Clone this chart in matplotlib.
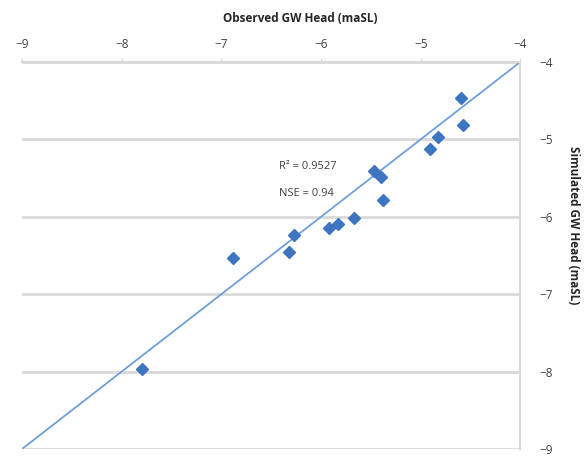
import numpy as np
import matplotlib.pyplot as plt

# observed vs simulated groundwater heads (maSL)
observed = [-4.60, -4.58, -4.83, -4.91, -5.47, -5.40, -5.38, -5.67, -5.83,
            -5.92, -6.27, -6.32, -6.88, -7.80]
simulated = [-4.47, -4.81, -4.97, -5.13, -5.41, -5.49, -5.78, -6.01, -6.09,
             -6.14, -6.23, -6.46, -6.53, -7.97]
one_to_one = [-9, -4]
ticks = [-9, -8, -7, -6, -5, -4]

plt.rcParams["font.family"] = ["Open Sans", "DejaVu Sans"]

fig = plt.figure(figsize=(5.87, 4.57), dpi=100)
ax = fig.add_axes([0.0375, 0.0175, 0.849, 0.847])

ax.plot(one_to_one, one_to_one, color="#6f9fd8", linewidth=1.3, zorder=2)
ax.plot(observed, simulated, linestyle="none", marker="D", markersize=6,
        color="#3f74c0", zorder=3)

ax.set_xlim(-9, -4)
ax.set_ylim(-9, -4)
ax.set_xticks(ticks)
ax.set_yticks(ticks)

ax.xaxis.tick_top()
ax.yaxis.tick_right()
ax.tick_params(axis="x", length=3, color="#d9d9d9", labelsize=8.5, pad=5,
               labelcolor="#404040")
ax.tick_params(axis="y", length=0, labelsize=8.5, pad=14, labelcolor="#404040")

ax.grid(axis="y", color="#d9d9d9", linewidth=2)
ax.set_axisbelow(True)
for side in ["left", "bottom"]:
    ax.spines[side].set_visible(False)
for side in ["top", "right"]:
    ax.spines[side].set_color("#d9d9d9")
    ax.spines[side].set_linewidth(1.5)

ax.text(-6.13, -5.35, "R² = 0.9527", fontsize=8, color="#404040", ha="center", va="center")
ax.text(-6.15, -5.70, "NSE = 0.94", fontsize=8, color="#404040", ha="center", va="center")

fig.text(300 / 587, 1 - 19 / 457, "Observed GW Head (maSL)", fontsize=8.5,
         fontweight="bold", ha="center", va="center", color="#262626")
fig.text(573 / 587, 1 - 225 / 457, "Simulated GW Head (maSL)", fontsize=8.5,
         fontweight="bold", ha="center", va="center", rotation=-90, color="#262626")

plt.savefig("out.png", dpi=100)
plt.close()
